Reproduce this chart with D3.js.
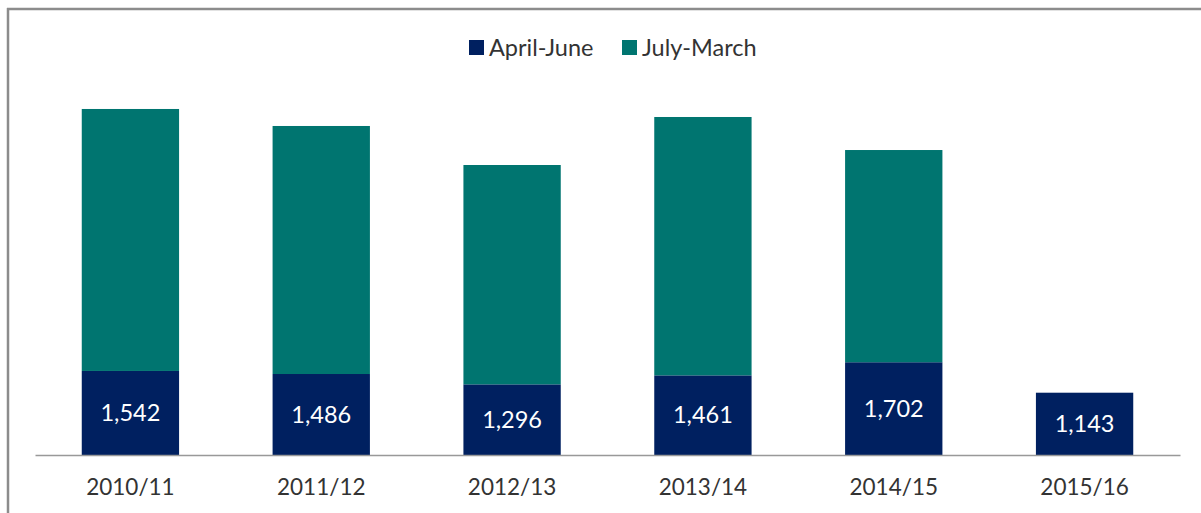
<!DOCTYPE html>
<html>
<head>
<meta charset="utf-8">
<script src="https://cdn.jsdelivr.net/npm/d3@7"></script>
<style>
  body { margin: 0; background: #fff; }
  text { font-family: Lato, "Open Sans", sans-serif; }
</style>
</head>
<body>
<script>
const years = ["2010/11", "2011/12", "2012/13", "2013/14", "2014/15", "2015/16"];
const aprilJune = [1542, 1486, 1296, 1461, 1702, 1143];
const julyMarch = [4807, 4551, 4025, 4741, 3894, 0];
const seriesNames = ["April-June", "July-March"];
const seriesColors = ["#002060", "#007570"];

const w = 1201, h = 513;

const svg = d3.select('body').append('svg')
    .attr('width', w)
    .attr('height', h);

// frame (top and left edge of the chart box)
svg.append('line')
    .attr('x1', 7).attr('x2', w).attr('y1', 9).attr('y2', 9)
    .attr('stroke', '#8c8c8c').attr('stroke-width', 2.5);
svg.append('line')
    .attr('x1', 8).attr('x2', 8).attr('y1', 8).attr('y2', h)
    .attr('stroke', '#8c8c8c').attr('stroke-width', 2.5);

const x = d3.scaleBand()
    .domain(years)
    .range([35, 1180])
    .paddingInner(0.49)
    .paddingOuter(0.245);

const y = d3.scaleLinear()
    .domain([0, 7000])
    .range([455, 73.5]);

const rows = years.map(function (yr, i) {
    return { year: yr, "April-June": aprilJune[i], "July-March": julyMarch[i] };
});
const stacked = d3.stack().keys(seriesNames)(rows);

svg.selectAll('g.series')
    .data(stacked)
    .enter().append('g')
    .attr('class', 'series')
    .attr('fill', function (d, i) { return seriesColors[i]; })
    .selectAll('rect')
    .data(function (d) { return d.filter(function (p) { return p[1] > p[0]; }); })
    .enter().append('rect')
    .attr('x', function (d) { return x(d.data.year); })
    .attr('width', x.bandwidth())
    .attr('y', function (d) { return y(d[1]); })
    .attr('height', function (d) { return y(d[0]) - y(d[1]); });

// value labels inside April-June bars
svg.selectAll('text.val')
    .data(aprilJune)
    .enter().append('text')
    .attr('class', 'val')
    .attr('x', function (d, i) { return x(years[i]) + x.bandwidth() / 2; })
    .attr('y', function (d) { return (y(0) + y(d)) / 2; })
    .attr('dy', '0.35em')
    .attr('text-anchor', 'middle')
    .attr('fill', '#fff')
    .attr('font-size', 23.5)
    .text(function (d) { return d3.format(',')(d); });

// x axis
const xAxis = svg.append('g')
    .attr('transform', 'translate(0,' + y(0) + ')')
    .call(d3.axisBottom(x).tickSize(0).tickPadding(24));
xAxis.select('.domain').attr('stroke', '#999').attr('stroke-width', 1.5);
xAxis.selectAll('text')
    .attr('font-size', 22.5)
    .attr('fill', '#333')
    .style('font-family', 'Lato, "Open Sans", sans-serif');

// legend
const legendX = [469, 622];
const legend = svg.selectAll('g.legend')
    .data(seriesNames)
    .enter().append('g')
    .attr('class', 'legend')
    .attr('transform', function (d, i) { return 'translate(' + legendX[i] + ',40)'; });
legend.append('rect')
    .attr('width', 15).attr('height', 15)
    .attr('fill', function (d, i) { return seriesColors[i]; });
legend.append('text')
    .attr('x', 20).attr('y', 7.5).attr('dy', '0.35em')
    .attr('font-size', 23.5)
    .attr('fill', '#333')
    .text(function (d) { return d; });
</script>
</body>
</html>
